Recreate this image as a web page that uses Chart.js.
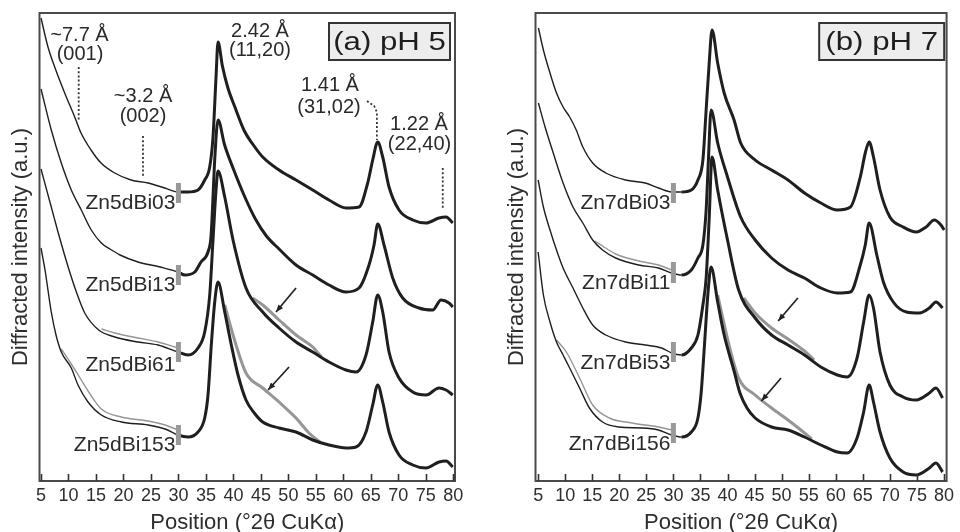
<!DOCTYPE html>
<html><head><meta charset="utf-8">
<script src="https://cdn.jsdelivr.net/npm/chart.js@4.4.1/dist/chart.umd.min.js"></script>
<style>
html,body{margin:0;padding:0;background:#fff;}
#wrap{position:relative;width:960px;height:532px;overflow:hidden;}
.pane{position:absolute;top:0;width:480px;height:532px;}
</style></head><body>
<div id="wrap">
<div class="pane" style="left:0"><canvas id="ca" width="480" height="532"></canvas></div>
<div class="pane" style="left:480px"><canvas id="cb" width="480" height="532"></canvas></div>
</div>
<script>
// ---------- shared axis data ----------
const xTicks = [5,10,15,20,25,30,35,40,45,50,55,60,65,70,75,80];
const xTitle = 'Position (°2θ CuKα)';
const yTitle = 'Diffracted intensity (a.u.)';
const markerX = 30;

// ---------- panel (a) pH 5 ----------
const a1X = [5.0,6.27,7.49,9.31,11.13,12.28,14.10,15.92,18.41,21.37,24.47,27.50,29.92,31.74,33.56,34.78,35.69,36.29,36.84,37.20,38.0,39.0,40.2,42.0,43.5,45.33,48.30,51.39,54.43,57.39,60.48,62.85,64.43,65.34,66.25,67.16,68.31,70.13,72.62,75.04,77.40,78.68,79.90];
const a1Y = [463,434,414,388,364,348,331,318,308,301,298,293,289,289,291,301,314,344,404,439,415,393,375,350,337,324,311,301,291,281,273,274,298,321,339,324,294,271,261,258,263,264,258];
const a2X = [5.0,6.87,8.69,10.51,12.33,14.15,15.97,17.55,19.37,22.65,26.65,29.92,31.14,32.96,34.11,35.38,35.93,36.29,36.60,37.20,38.4,40.0,42.0,44.0,46.0,48.30,51.39,54.43,57.39,60.48,62.85,64.67,65.58,66.25,67.40,68.98,70.80,73.77,76.26,77.77,79.22,79.90];
const a2Y = [392,351,318,291,271,251,238,232,226,219,214,209,206,209,219,229,245,284,321,361,336,312,285,262,245,232,216,206,196,189,193,216,236,257,236,203,183,173,171,181,178,174];
const a3X = [5.0,6.82,8.09,9.18,10.28,11.37,12.95,15.5,18.41,22.65,26.29,29.92,31.74,33.56,34.78,35.69,36.29,36.84,37.20,38.42,39.93,42.29,45.33,48.30,51.39,54.43,57.39,60.48,62.30,64.12,65.34,66.25,67.16,68.31,70.13,72.62,75.04,77.40,78.68,79.90];
const a3Y = [312,275,249,228,208,190,168,151,144,139,136,129,126,133,149,186,241,291,310,284,241,193,169,153,139,129,119,111,109,126,159,186,169,129,103,89,86,93,91,86];
const a4X = [5.0,5.7,6.87,7.73,8.69,10.51,11.73,13.55,15.97,19.61,24.47,27.56,29.92,31.74,33.56,34.78,35.38,35.98,36.60,37.20,38.42,39.62,40.84,42.29,43.8,45.33,48.30,51.39,54.43,57.39,60.48,62.30,64.12,65.34,66.25,67.16,68.31,70.13,72.62,75.04,77.40,78.68,79.90];
const a4Y = [233,212,169,146,129,113,96,79,66,59,56,52,46,44,49,63,86,136,179,199,169,136,106,81,68,59,53,49,41,36,33,34,49,76,96,79,49,26,16,13,19,20,14];
// grey replicate traces (null = gap)
const aG3X = [16.0,18.41,22.65,26.29,29.92,31.0,43.5,45.33,48.30,51.39,54.43,56.0];
const aG3Y = [152,148,143,139,133,null,183,176,161,146,134,124];
const aG4X = [8.69,10.51,12.10,13.92,15.97,19.61,24.47,27.56,29.92,31.0,38.42,39.93,42.29,45.33,48.30,51.39,53.75,55.75];
const aG4Y = [132,117,103,87,72,64,60,56,51,null,176,146,108,93,79,63,48,39];
const aNames = ['Zn5dBi03','Zn5dBi13','Zn5dBi61','Zn5dBi153'];
const aNameY = [278,196,116,36];
const aMarkers = [[278,298],[196,216],[119,139],[36,56]];
const aArrows = [[51.39,193,47.75,169],[50.12,114,46.30,91]];
const aAnnText = ['~7.7 Å','(001)','~3.2 Å','(002)','2.42 Å','(11,20)','1.41 Å','(31,02)','1.22 Å','(22,40)'];
const aAnnX = [12.0,12.09,23.56,23.56,44.84,44.84,57.57,57.39,73.76,73.86];
const aAnnY = [446,427,385,365,450,431,396,374,357,337];
const aDots = [
  {x:[11.86,11.86], y:[414,361]},
  {x:[23.55,23.55], y:[345,304]},
  {x:[64.3,65.6,66.1,66.1], y:[380,375,369,341]},
  {x:[78.08,78.08], y:[313,271]}
];

// ---------- panel (b) pH 7 ----------
const b1X = [5.05,5.97,7.19,8.39,9.61,10.83,12.04,13.26,15.08,17.51,21.15,24.80,27.24,29.67,31.49,33.31,34.53,35.45,36.05,36.65,37.14,38.18,39.38,41.21,42.43,45.11,48.14,51.18,54.22,57.25,60.30,62.72,64.54,65.46,66.18,66.98,68.19,70.01,72.46,74.88,76.71,78.22,79.44,80.04];
const b1Y = [453,431,408,388,374,364,351,334,318,308,301,298,293,289,289,291,301,321,371,421,451,418,388,361,338,321,311,301,288,278,271,274,304,328,339,324,291,264,254,249,254,261,256,251];
const b2X = [5.05,6.28,7.79,9.61,11.44,13.26,15.08,16.90,19.33,23.60,27.24,29.67,31.49,33.31,34.53,35.45,36.05,36.47,36.96,38.18,40.00,42.43,45.11,48.14,51.18,54.22,57.25,60.30,62.72,64.54,65.46,66.18,67.59,68.81,70.63,73.06,75.48,77.31,78.53,79.75];
const b2Y = [378,354,328,298,274,258,241,231,223,216,213,208,206,211,223,236,271,321,371,338,304,264,241,223,211,203,193,188,189,216,236,258,226,199,179,169,168,173,179,173];
const b3X = [5.0,5.97,7.19,8.39,9.61,11.44,13.26,15.08,17.51,21.15,24.80,27.84,29.67,31.49,33.31,34.53,35.45,36.05,36.60,37.14,38.18,40.00,42.06,45.11,48.14,51.18,54.22,57.25,60.30,62.12,63.94,65.16,66.18,66.98,68.19,70.01,72.46,74.88,77.31,78.53,79.75];
const b3Y = [301,274,251,231,213,193,173,156,146,139,136,133,128,126,133,146,176,203,261,324,291,241,191,163,146,136,126,114,106,104,123,159,186,173,129,96,84,81,88,93,83];
const b4X = [5.0,5.97,7.19,8.39,9.61,10.83,12.66,14.48,16.90,19.95,24.20,27.24,29.67,31.49,33.31,34.53,35.14,35.74,36.36,36.96,38.18,39.38,41.21,42.3,43.6,45.11,48.14,51.18,54.22,57.25,60.30,62.12,63.94,65.16,66.18,66.98,68.19,70.01,72.46,74.88,77.31,78.53,79.75];
const b4Y = [229,186,159,139,126,113,93,73,59,54,53,51,46,44,49,63,89,136,186,214,179,146,110,88,73,63,54,51,44,36,29,28,43,69,96,79,49,23,9,6,13,18,9];
const bG2X = [15.5,16.9,19.33,23.60,27.24,29.67];
const bG2Y = [240,235,227,220,216,211];
const bG3X = [43.0,45.11,48.14,51.18,54.22,56.0];
const bG3Y = [183,168,153,142,130,121];
const bG4X = [8.39,10.21,12.66,15.08,18.13,22.37,27.24,29.67,31.0,38.18,40.06,42.06,45.11,48.14,51.18,53.55,55.56];
const bG4Y = [141,129,103,76,63,58,54,51,null,186,141,103,86,73,61,51,42];
const bNames = ['Zn7dBi03','Zn7dBi11','Zn7dBi53','Zn7dBi156'];
const bNameY = [278,198,118,37];
const bMarkers = [[278,298],[198,219],[119,139],[38,58]];
const bArrows = [[53.0,183,49.36,160],[49.9,103,46.26,80]];

// ---------- drawing ----------
const FONT = '"Liberation Sans", Arial, Helvetica, sans-serif';
const TXT = '#2a2a2a';
const pts = (xs, ys) => xs.map((v, i) => ({x: v, y: ys[i]}));
const segW = c => (c.p0.parsed.x >= 29.9 ? 3.0 : 1.4);
const fuzzW = c => (c.p0.parsed.x >= 29.9 ? 6.0 : 0);

function arrow(ctx, x1, y1, x2, y2) {
  ctx.beginPath(); ctx.moveTo(x1, y1); ctx.lineTo(x2, y2); ctx.stroke();
  const ang = Math.atan2(y2 - y1, x2 - x1), h = 8, w = 0.38;
  ctx.beginPath(); ctx.moveTo(x2, y2);
  ctx.lineTo(x2 - h * Math.cos(ang - w), y2 - h * Math.sin(ang - w));
  ctx.lineTo(x2 - h * Math.cos(ang + w), y2 - h * Math.sin(ang + w));
  ctx.closePath(); ctx.fill();
}

const overlay = {
  id: 'overlay',
  afterDraw(chart, args, o) {
    const {ctx, chartArea: a} = chart;
    const x = chart.scales.x, y = chart.scales.y;
    ctx.save();
    // frame
    ctx.strokeStyle = '#4a4a4a'; ctx.lineWidth = 2;
    ctx.strokeRect(a.left, a.top, a.right - a.left, a.bottom - a.top);
    // inward tick marks
    ctx.lineWidth = 1.6; ctx.strokeStyle = '#333';
    x.ticks.forEach(t => {
      const px = Math.round(x.getPixelForValue(t.value)) + 0.5;
      ctx.beginPath(); ctx.moveTo(px, a.bottom); ctx.lineTo(px, a.bottom - 7); ctx.stroke();
    });
    // sample names
    ctx.fillStyle = TXT; ctx.font = '21px ' + FONT;
    ctx.textAlign = 'right'; ctx.textBaseline = 'middle';
    o.names.forEach((n, i) => ctx.fillText(n, x.getPixelForValue(markerX) - 3, y.getPixelForValue(o.nameY[i])));
    // annotations
    if (o.annText) {
      ctx.font = '20px ' + FONT; ctx.textAlign = 'center';
      o.annText.forEach((t, i) => ctx.fillText(t, x.getPixelForValue(o.annX[i]), y.getPixelForValue(o.annY[i])));
    }
    // arrows
    ctx.strokeStyle = '#222'; ctx.fillStyle = '#222'; ctx.lineWidth = 1.7;
    o.arrows.forEach(r => arrow(ctx, x.getPixelForValue(r[0]), y.getPixelForValue(r[1]), x.getPixelForValue(r[2]), y.getPixelForValue(r[3])));
    // panel label box
    const bx = a.right - o.box.gap - o.box.w, by = a.top + 10;
    ctx.fillStyle = '#ededed'; ctx.fillRect(bx, by, o.box.w, o.box.h);
    ctx.strokeStyle = '#333'; ctx.lineWidth = 2; ctx.strokeRect(bx, by, o.box.w, o.box.h);
    ctx.fillStyle = '#1e1e1e'; ctx.font = '26px ' + FONT; ctx.textAlign = 'center'; ctx.textBaseline = 'middle';
    ctx.translate(bx + o.box.w / 2, by + o.box.h / 2 + 1);
    ctx.scale(1.2, 1);
    ctx.fillText(o.box.text, 0, 0);
    ctx.restore();
  }
};

function makePanel(id, p) {
  const ds = [];
  // soft fuzz under the noisy high-angle parts
  p.curves.concat(p.grey).forEach(c => ds.push({data: pts(c[0], c[1]), borderColor: 'rgba(110,110,110,0.35)', borderWidth: 0,
    segment: {borderWidth: fuzzW}, pointRadius: 0, cubicInterpolationMode: 'monotone', spanGaps: false, order: 5}));
  p.grey.forEach(g => ds.push({data: pts(g[0], g[1]), borderColor: '#969696', borderWidth: 1.4,
    segment: {borderWidth: segW}, pointRadius: 0, cubicInterpolationMode: 'monotone', spanGaps: false, order: 4}));
  p.curves.forEach(c => ds.push({data: pts(c[0], c[1]), borderColor: '#1f1f1f', borderWidth: 1.4,
    segment: {borderWidth: segW}, pointRadius: 0, cubicInterpolationMode: 'monotone', order: 3}));
  (p.dots || []).forEach(d => ds.push({data: pts(d.x, d.y), borderColor: '#333', borderWidth: 1.8,
    borderDash: [2, 2.2], pointRadius: 0, tension: 0, order: 2}));
  p.markers.forEach(m => ds.push({data: [{x: markerX, y: m[0]}, {x: markerX, y: m[1]}], borderColor: '#999',
    borderWidth: 5, borderCapStyle: 'butt', pointRadius: 0, order: 1}));
  return new Chart(document.getElementById(id), {
    type: 'line',
    data: {datasets: ds},
    options: {
      responsive: false, animation: false, devicePixelRatio: 1,
      layout: {padding: {left: p.padLeft, top: 13, right: p.padRight, bottom: 0}},
      plugins: {legend: {display: false}, tooltip: {enabled: false}, overlay: p.ov},
      scales: {
        x: {type: 'linear', min: p.xmin, max: p.xmax, bounds: 'data',
          afterBuildTicks: s => { s.ticks = xTicks.map(v => ({value: v})); },
          afterFit: s => { s.height = 51; },
          grid: {display: false, drawTicks: false}, border: {display: false},
          ticks: {autoSkip: false, maxRotation: 0, padding: 6, color: '#2e2e2e', font: {family: FONT, size: 18, lineHeight: 1}},
          title: {display: true, text: xTitle, color: '#2e2e2e', font: {family: FONT, size: 22, lineHeight: 0.8}, padding: {top: 0, bottom: 0}}
        },
        y: {type: 'linear', min: 0, max: 468,
          afterFit: s => { s.width = 39.5; },
          grid: {display: false, drawTicks: false}, border: {display: false},
          ticks: {display: false},
          title: {display: true, text: yTitle, color: '#2e2e2e', font: {family: FONT, size: 22, lineHeight: 1.2}, padding: {top: 8, bottom: 0}}
        }
      }
    },
    plugins: [overlay]
  });
}

makePanel('ca', {
  xmin: 4.727, xmax: 80.31, padLeft: 0, padRight: 25,
  curves: [[a1X, a1Y], [a2X, a2Y], [a3X, a3Y], [a4X, a4Y]],
  grey: [[aG3X, aG3Y], [aG4X, aG4Y]],
  dots: aDots,
  markers: aMarkers,
  ov: {names: aNames, nameY: aNameY, arrows: aArrows, annText: aAnnText, annX: aAnnX, annY: aAnnY,
       box: {text: '(a) pH 5', w: 121, h: 37, gap: 5}}
});
makePanel('cb', {
  xmin: 4.51, xmax: 80.49, padLeft: 16, padRight: 8.3,
  curves: [[b1X, b1Y], [b2X, b2Y], [b3X, b3Y], [b4X, b4Y]],
  grey: [[bG2X, bG2Y], [bG3X, bG3Y], [bG4X, bG4Y]],
  markers: bMarkers,
  ov: {names: bNames, nameY: bNameY, arrows: bArrows, box: {text: '(b) pH 7', w: 125, h: 37, gap: 2.4}}
});
</script>
</body></html>
